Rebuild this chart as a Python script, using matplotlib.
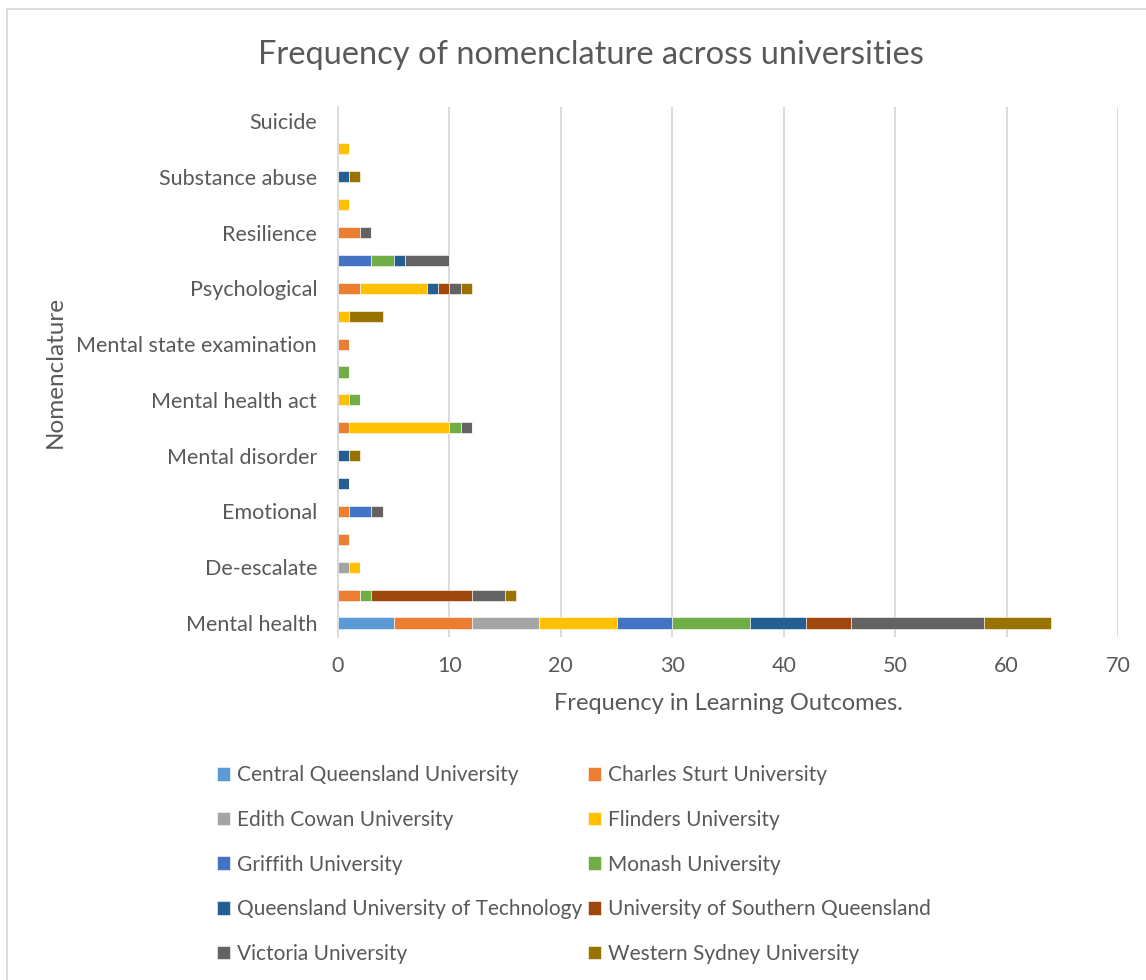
import numpy as np
import matplotlib
matplotlib.use("Agg")
import matplotlib.pyplot as plt

plt.rcParams['font.family'] = ['Lato', 'DejaVu Sans']

# categories, bottom to top (only every other label is shown in the original)
categories = ["Mental health", "", "De-escalate", "", "Emotional", "",
              "Mental disorder", "", "Mental health act", "",
              "Mental state examination", "", "Psychological", "",
              "Resilience", "", "Substance abuse", "", "Suicide"]

universities = ["Central Queensland University", "Charles Sturt University",
                "Edith Cowan University", "Flinders University",
                "Griffith University", "Monash University",
                "Queensland University of Technology",
                "University of Southern Queensland",
                "Victoria University", "Western Sydney University"]

colors = ["#5B9BD5", "#ED7D31", "#A5A5A5", "#FFC000", "#4472C4",
          "#70AD47", "#255E91", "#9E480E", "#636363", "#997300"]

# counts per university, one value per category (same order as categories)
cqu      = [5, 0, 0, 0, 0, 0, 0, 0, 0, 0, 0, 0, 0, 0, 0, 0, 0, 0, 0]
csu      = [7, 2, 0, 1, 1, 0, 0, 1, 0, 0, 1, 0, 2, 0, 2, 0, 0, 0, 0]
ecu      = [6, 0, 1, 0, 0, 0, 0, 0, 0, 0, 0, 0, 0, 0, 0, 0, 0, 0, 0]
flinders = [7, 0, 1, 0, 0, 0, 0, 9, 1, 0, 0, 1, 6, 0, 0, 1, 0, 1, 0]
griffith = [5, 0, 0, 0, 2, 0, 0, 0, 0, 0, 0, 0, 0, 3, 0, 0, 0, 0, 0]
monash   = [7, 1, 0, 0, 0, 0, 0, 1, 1, 1, 0, 0, 0, 2, 0, 0, 0, 0, 0]
qut      = [5, 0, 0, 0, 0, 1, 1, 0, 0, 0, 0, 0, 1, 1, 0, 0, 1, 0, 0]
usq      = [4, 9, 0, 0, 0, 0, 0, 0, 0, 0, 0, 0, 1, 0, 0, 0, 0, 0, 0]
vu       = [12, 3, 0, 0, 1, 0, 0, 1, 0, 0, 0, 0, 1, 4, 1, 0, 0, 0, 0]
wsu      = [6, 1, 0, 0, 0, 0, 1, 0, 0, 0, 0, 3, 1, 0, 0, 0, 1, 0, 0]

series = [cqu, csu, ecu, flinders, griffith, monash, qut, usq, vu, wsu]

txt = "#595959"
grid = "#D9D9D9"

fig = plt.figure(figsize=(11.46, 9.8), dpi=100)
ax = fig.add_axes([0.2949, 0.35, 0.6807, 0.5408])

y = np.arange(len(categories))
left = np.zeros(len(categories))
handles = []
for vals, name, c in zip(series, universities, colors):
    vals = np.array(vals, dtype=float)
    h = ax.barh(y, vals, left=left, height=0.4, color=c, label=name,
                edgecolor="white", linewidth=0.4)
    handles.append(h)
    left += vals

ax.set_xlim(0, 70)
ax.set_ylim(-0.5, 18.5)
ax.set_xticks(range(0, 71, 10))
ax.set_yticks(y)
ax.set_yticklabels(categories)
ax.tick_params(axis="both", length=0, colors=txt, labelsize=15.5)
ax.tick_params(axis="x", pad=14)
ax.tick_params(axis="y", pad=15)
ax.xaxis.grid(True, color=grid, linewidth=1.3)
ax.set_axisbelow(True)
for s in ["top", "right", "bottom"]:
    ax.spines[s].set_visible(False)
ax.spines["left"].set_color(grid)
ax.spines["left"].set_linewidth(1.3)

ax.set_xlabel("Frequency in Learning Outcomes.", color=txt, fontsize=17, labelpad=12)
ax.set_ylabel("Nomenclature", color=txt, fontsize=17.5, labelpad=8)
fig.text(0.516, 0.944, "Frequency of nomenclature across universities",
         ha="center", va="center", color=txt, fontsize=23.5)

# legend fills row by row in the original, so reorder for matplotlib's column fill
order = list(range(0, 10, 2)) + list(range(1, 10, 2))
leg = fig.legend([handles[i] for i in order], [universities[i] for i in order],
                 ncol=2, loc="upper left", bbox_to_anchor=(0.1894, 0.219),
                 frameon=False, fontsize=15, handlelength=0.62, handleheight=0.62,
                 handletextpad=0.33, labelspacing=1.18, columnspacing=0.3,
                 borderaxespad=0, borderpad=0)
for t in leg.get_texts():
    t.set_color(txt)

fig.add_artist(plt.Rectangle((0.0065, -0.1), 1.2, 1.0908, fill=False,
                             edgecolor=grid, linewidth=1.3,
                             transform=fig.transFigure, clip_on=False))

fig.savefig("out.png", dpi=100, facecolor="white")
